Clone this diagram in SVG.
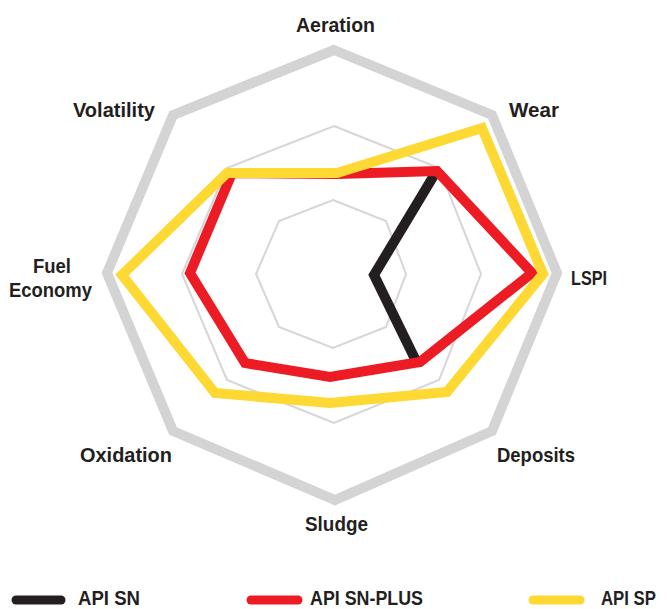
<svg xmlns="http://www.w3.org/2000/svg" width="667" height="609" viewBox="0 0 667 609">
<style>
.lbl{font-family:"Liberation Sans",Arial,sans-serif;font-weight:bold;font-size:21px;fill:#231f20;}
.leg{font-family:"Liberation Sans",Arial,sans-serif;font-weight:bold;font-size:20px;fill:#231f20;}
.grid{fill:none;stroke:#d6d6d6;stroke-width:2;}
.outer{fill:none;stroke:#d4d4d4;stroke-width:10;stroke-linejoin:miter;}
.series{fill:none;stroke-width:10;stroke-linejoin:miter;stroke-miterlimit:10;}
.legline{stroke-width:9;stroke-linecap:round;}
</style>
<rect width="667" height="609" fill="#ffffff"/>
<g id="grid">
<polygon class="outer" points="334,50 492,115 557,273 492,431 335,500 173,431 107,273 173,115"/>
<polygon class="grid" points="334,126 439,168 481,274 439,380 334,423 227,380 182,274 227,168"/>
<polygon class="grid" points="333,200 386,221 406,274 386,327 333,348 279,327 256,274 279,221"/>
</g>
<g id="labels">
<text id="aeration" class="lbl" x="296" y="32" textLength="79" lengthAdjust="spacingAndGlyphs">Aeration</text>
<text id="wear" class="lbl" x="509" y="117" textLength="50" lengthAdjust="spacingAndGlyphs">Wear</text>
<text id="lspi" class="lbl" x="571" y="285" textLength="36" lengthAdjust="spacingAndGlyphs">LSPI</text>
<text id="deposits" class="lbl" x="497" y="462" textLength="78" lengthAdjust="spacingAndGlyphs">Deposits</text>
<text id="sludge" class="lbl" x="305" y="531" textLength="63" lengthAdjust="spacingAndGlyphs">Sludge</text>
<text id="oxidation" class="lbl" x="80" y="462" textLength="92" lengthAdjust="spacingAndGlyphs">Oxidation</text>
<g id="fuel-economy">
<text class="lbl" x="33" y="273" textLength="38" lengthAdjust="spacingAndGlyphs">Fuel</text>
<text class="lbl" x="9" y="297" textLength="83" lengthAdjust="spacingAndGlyphs">Economy</text>
</g>
<text id="volatility" class="lbl" x="73" y="117" textLength="82" lengthAdjust="spacingAndGlyphs">Volatility</text>
</g>
<g id="series">
<polyline id="api-sn" class="series" stroke="#231f20" stroke-width="9" stroke-linecap="butt" points="436,172 374,275 416,361"/>
<polygon id="api-sn-plus" class="series" stroke="#ed1c24" points="232,173 337,174 437,171 532,273 420,362 330,377 245,363 190,273"/>
<polygon id="api-sp" class="series" stroke="#fed833" points="227,173 337,173 482,128 543,274 447,392 330,403 215,393 122,275"/>
</g>
<g id="legend">
<g id="leg-sn">
<line class="legline" stroke="#231f20" x1="16" y1="600" x2="61" y2="600"/>
<text class="leg" x="78" y="605" textLength="62" lengthAdjust="spacingAndGlyphs">API SN</text>
</g>
<g id="leg-snplus">
<line class="legline" stroke="#ed1c24" x1="251" y1="600" x2="298" y2="600"/>
<text class="leg" x="310" y="605" textLength="113" lengthAdjust="spacingAndGlyphs">API SN-PLUS</text>
</g>
<g id="leg-sp">
<line class="legline" stroke="#fed833" x1="533" y1="600" x2="580" y2="600"/>
<text class="leg" x="601" y="605" textLength="55" lengthAdjust="spacingAndGlyphs">API SP</text>
</g>
</g>
</svg>
